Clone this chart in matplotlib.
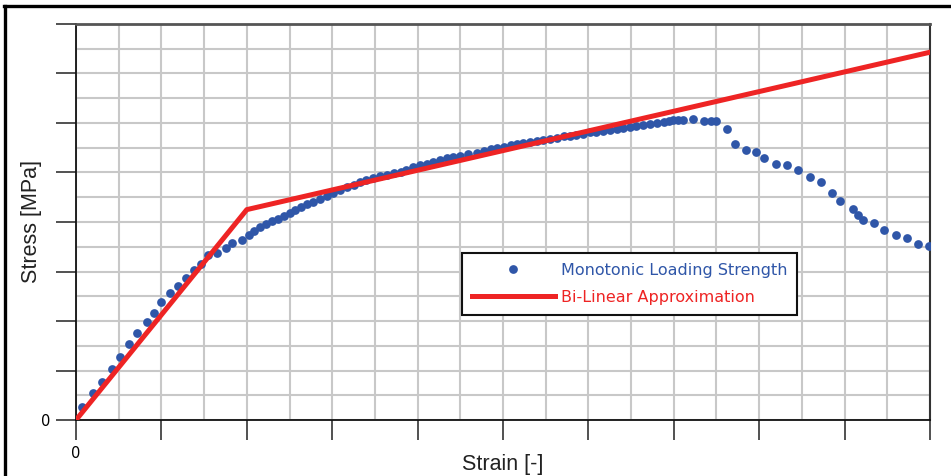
import numpy as np
import matplotlib.pyplot as plt
from matplotlib.lines import Line2D

# monotonic loading test points (strain, stress)
strain = [0.07, 0.20, 0.30, 0.42, 0.51, 0.62, 0.72, 0.83, 0.91, 1.00,
          1.10, 1.20, 1.29, 1.38, 1.46, 1.55, 1.65, 1.76, 1.83, 1.94,
          2.02, 2.08, 2.15, 2.22, 2.29, 2.36, 2.43, 2.50, 2.57, 2.64,
          2.71, 2.78, 2.86, 2.94, 3.01, 3.09, 3.17, 3.25, 3.33, 3.40,
          3.48, 3.56, 3.64, 3.72, 3.80, 3.87, 3.95, 4.03, 4.11, 4.18,
          4.26, 4.34, 4.42, 4.50, 4.59, 4.69, 4.78, 4.86, 4.93, 5.01,
          5.09, 5.16, 5.24, 5.32, 5.40, 5.47, 5.55, 5.63, 5.71, 5.78,
          5.86, 5.94, 6.02, 6.09, 6.17, 6.25, 6.33, 6.41, 6.49, 6.56,
          6.64, 6.72, 6.80, 6.88, 6.94, 6.99, 7.05, 7.11, 7.23, 7.35,
          7.43, 7.50, 7.62, 7.72, 7.84, 7.96, 8.06, 8.20, 8.32, 8.46,
          8.59, 8.72, 8.85, 8.95, 9.10, 9.16, 9.22, 9.34, 9.46, 9.60,
          9.73, 9.86, 9.99]
stress = [0.27, 0.54, 0.77, 1.04, 1.28, 1.53, 1.75, 1.97, 2.17, 2.38,
          2.56, 2.71, 2.87, 3.03, 3.16, 3.33, 3.38, 3.47, 3.57, 3.64,
          3.74, 3.82, 3.90, 3.95, 4.02, 4.07, 4.13, 4.19, 4.25, 4.31,
          4.36, 4.41, 4.47, 4.53, 4.59, 4.65, 4.70, 4.75, 4.80, 4.85,
          4.88, 4.92, 4.95, 4.98, 5.02, 5.06, 5.11, 5.15, 5.18, 5.22,
          5.26, 5.29, 5.31, 5.33, 5.37, 5.40, 5.43, 5.47, 5.49, 5.52,
          5.55, 5.57, 5.59, 5.61, 5.64, 5.65, 5.67, 5.70, 5.73, 5.74,
          5.76, 5.78, 5.81, 5.82, 5.84, 5.86, 5.88, 5.89, 5.91, 5.94,
          5.96, 5.98, 6.01, 6.03, 6.05, 6.06, 6.06, 6.06, 6.09, 6.05,
          6.05, 6.05, 5.87, 5.57, 5.45, 5.42, 5.29, 5.18, 5.15, 5.05,
          4.90, 4.81, 4.59, 4.42, 4.26, 4.14, 4.04, 3.97, 3.84, 3.74,
          3.67, 3.56, 3.52]

# bi-linear approximation
bl_strain = [0.0, 2.0, 10.0]
bl_stress = [0.0, 4.25, 7.43]

blue = '#2f56a8'
red = '#ee2424'

fig = plt.figure(figsize=(9.51, 4.76), dpi=100)
ax = fig.add_axes([76/951, 1-420/476, (930-76)/951, (420-24)/476])

ax.plot(strain, stress, 'o', color=blue, markersize=6.3, markeredgewidth=0,
        label='Monotonic Loading Strength', zorder=3)
ax.plot(bl_strain, bl_stress, '-', color=red, linewidth=3.6,
        label='Bi-Linear Approximation', zorder=4)

ax.set_xlim(0, 10)
ax.set_ylim(0, 8)
ax.set_xticks(np.arange(0, 11, 1))
ax.set_yticks(np.arange(0, 9, 1))
ax.set_xticks(np.arange(0, 10.01, 0.5), minor=True)
ax.set_yticks(np.arange(0, 8.01, 0.5), minor=True)
ax.set_xticklabels(['0'] + [''] * 10)
ax.set_yticklabels(['0'] + [''] * 8)
ax.tick_params(which='major', direction='out', length=14.5, width=1.1,
               color='#222222', labelsize=10.5, pad=4)
ax.tick_params(which='minor', length=0)
ax.grid(which='both', color='#c8c8c8', linewidth=1.5, zorder=0)
ax.set_axisbelow(True)

for s in ['left', 'bottom']:
    ax.spines[s].set_color('#111111')
    ax.spines[s].set_linewidth(1.3)
ax.spines['top'].set_color('#555555')
ax.spines['top'].set_linewidth(2)
ax.spines['right'].set_color('#333333')
ax.spines['right'].set_linewidth(1.5)

ax.set_xlabel('Strain [-]', fontsize=15.5, family='Liberation Sans', color='#222222')
ax.set_ylabel('Stress [MPa]', fontsize=15.5, family='Liberation Sans', color='#222222')
ax.xaxis.set_label_coords(0.5, -0.085)
ax.yaxis.set_label_coords(-0.04, 0.5)

leg = ax.legend(loc='upper left', bbox_to_anchor=(462/951, 1-253/476),
                bbox_transform=fig.transFigure, borderaxespad=0,
                fontsize=11.5, handlelength=5.2, handletextpad=0.38,
                borderpad=0.62, labelspacing=0.75, fancybox=False,
                framealpha=1, labelcolor=[blue, red])
leg.get_frame().set_edgecolor('#111111')
leg.get_frame().set_linewidth(1.5)

# black frame of the figure (top and left edges only are visible)
fig.add_artist(Line2D([4/951, 1], [1-6/476, 1-6/476], transform=fig.transFigure,
                      color='black', linewidth=2.4))
fig.add_artist(Line2D([5/951, 5/951], [0, 1-6/476], transform=fig.transFigure,
                      color='black', linewidth=2.4))

fig.savefig('out.png', dpi=100)
